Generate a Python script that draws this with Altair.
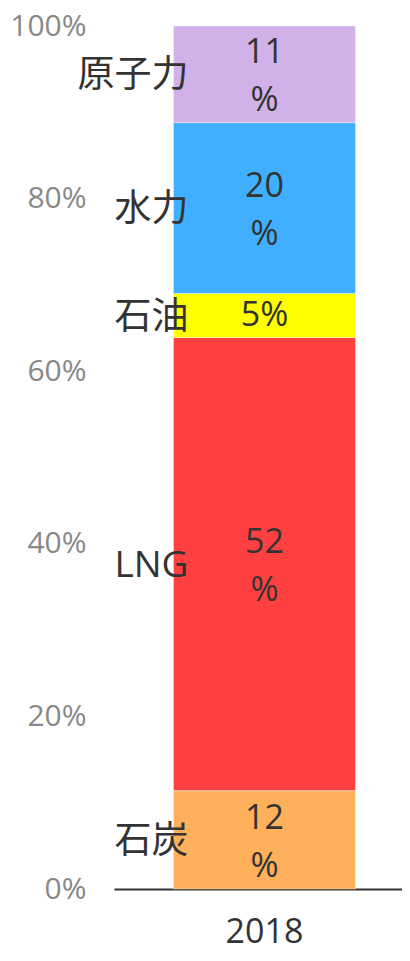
import altair as alt
import pandas as pd

categories = ["石炭", "LNG", "石油", "水力", "原子力"]
shares = [11.4, 52.5, 5.1, 19.8, 11.2]
value_labels = ["12\n%", "52\n%", "5%", "20\n%", "11\n%"]
colors = ["#FFB05A", "#FF4040", "#FFFF00", "#40AFFF", "#D1B2E8"]
year = "2018"
y_ticks = [0, 20, 40, 60, 80, 100]

df = pd.DataFrame({"cat": categories, "share": shares, "label": value_labels})
df["year"] = year
df["y1"] = df["share"].cumsum()
df["y0"] = df["y1"] - df["share"]
df["mid"] = (df["y0"] + df["y1"]) / 2

FONT = "Open Sans, Noto Sans CJK JP, sans-serif"

xscale = alt.Scale(paddingInner=0, paddingOuter=0.1, align=0.635)
yscale = alt.Scale(domain=[0, 100], nice=False)

base = alt.Chart(df)

bars = base.mark_bar(size=182, stroke="white", strokeOpacity=0.35, strokeWidth=1).encode(
    x=alt.X("year:N", scale=xscale, axis=alt.Axis(
        title=None, labelAngle=0, labelFontSize=34, labelColor="#333333",
        labelFont=FONT, domainColor="#333333", domainWidth=2, ticks=False,
        labelBaseline="alphabetic", labelPadding=53)),
    y=alt.Y("y0:Q", scale=yscale, axis=alt.Axis(
        title=None, values=y_ticks, labelExpr="datum.value + '%'",
        labelFontSize=30, labelColor="#888888", labelFont=FONT,
        domain=False, ticks=False, grid=False, labelPadding=28)),
    y2="y1:Q",
    color=alt.Color("cat:N", scale=alt.Scale(domain=categories, range=colors), legend=None),
)

cat_text = base.mark_text(align="right", baseline="middle", fontSize=37, color="#333333",
                          font=FONT, dx=-76, dy=2).encode(
    x=alt.X("year:N", scale=xscale),
    y=alt.Y("mid:Q", scale=yscale),
    text="cat:N",
)

two_line = base.transform_filter("indexof(datum.label, '\\n') >= 0").mark_text(
    align="center", baseline="middle", fontSize=34, color="#333333",
    font=FONT, lineBreak="\n", lineHeight=48, dy=-21).encode(
    x=alt.X("year:N", scale=xscale),
    y=alt.Y("mid:Q", scale=yscale),
    text="label:N",
)

one_line = base.transform_filter("indexof(datum.label, '\\n') < 0").mark_text(
    align="center", baseline="middle", fontSize=34, color="#333333",
    font=FONT).encode(
    x=alt.X("year:N", scale=xscale),
    y=alt.Y("mid:Q", scale=yscale),
    text="label:N",
)

chart = alt.layer(bars, cat_text, two_line, one_line).properties(
    width=288, height=863,
    autosize=alt.AutoSizeParams(type="none"),
    padding={"left": 106, "top": 18, "right": 0, "bottom": 62},
).configure_view(stroke=None)

chart.save("out.html", embed_options={"renderer": "svg", "actions": False})
